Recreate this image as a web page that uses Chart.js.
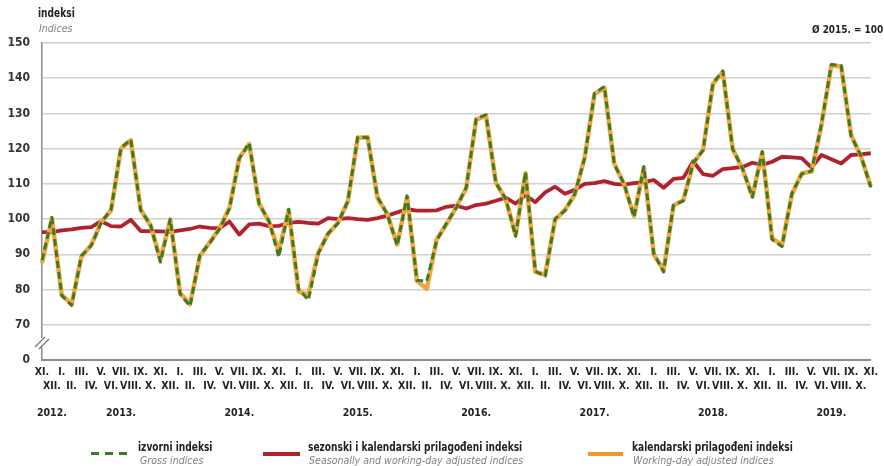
<!DOCTYPE html>
<html lang="hr">
<head>
    <meta charset="UTF-8">
    <title>Indeksi</title>
    <script src="https://cdn.jsdelivr.net/npm/chart.js"></script>
    <style>
        body { margin: 0; background: #fff; }
        #wrap { position: relative; width: 884px; height: 466px; overflow: hidden;
                font-family: 'Liberation Sans Narrow', 'DejaVu Sans Condensed', 'Arial Narrow', sans-serif; color: #222; }
        #wrap canvas { position: absolute; left: 0; top: 0; }
        .txt { position: absolute; white-space: nowrap; transform-origin: 0 50%; }
        .b { font-weight: bold; font-size: 12px; transform: scaleX(0.84); }
        .i { font-style: italic; font-size: 11px; color: #808080; transform: scaleX(0.96); }
        .sw { position: absolute; height: 4px; }
    </style>
</head>
<body>
<div id="wrap">
    <canvas id="chart" width="884" height="466"></canvas>

    <div class="txt b" style="left:38px; top:6px;">indeksi</div>
    <div class="txt i" style="left:39px; top:22px;">Indices</div>
    <div class="txt b" style="left:812px; top:23px; font-size:11px; transform: scaleX(0.9);">Ø 2015. = 100</div>

    <!-- legenda -->
    <div class="sw" style="left:91px; top:452px; width:38px; height:3px;
         background: repeating-linear-gradient(90deg, #3a7a28 0 8px, transparent 8px 14px);"></div>
    <div class="txt b" style="left:138px; top:440px;">izvorni indeksi</div>
    <div class="txt i" style="left:140px; top:454px;">Gross indices</div>

    <div class="sw" style="left:263px; top:452px; width:37px; background:#b0232e;"></div>
    <div class="txt b" style="left:308px; top:440px;">sezonski i kalendarski prilagođeni indeksi</div>
    <div class="txt i" style="left:309px; top:454px;">Seasonally and working-day adjusted indices</div>

    <div class="sw" style="left:588px; top:452px; width:35px; background:#f0972e;"></div>
    <div class="txt b" style="left:632px; top:440px;">kalendarski prilagođeni indeksi</div>
    <div class="txt i" style="left:633px; top:454px;">Working-day adjusted indices</div>
</div>

<script>
    // --- Podaci: XI. 2012. - XI. 2019. ---
    const monthNames = ['I.', 'II.', 'III.', 'IV.', 'V.', 'VI.', 'VII.', 'VIII.', 'IX.', 'X.', 'XI.', 'XII.'];
    const yearNames = ['2012.', '2013.', '2014.', '2015.', '2016.', '2017.', '2018.', '2019.'];

    // izvorni indeksi
    const gross = [
        88.3, 100.5,
        78.3, 75.5, 89.6, 92.5, 99.0, 102.7, 120.3, 122.6, 102.5, 98.4, 87.8, 100.0,
        78.7, 75.3, 89.8, 93.2, 97.2, 103.0, 117.2, 121.6, 104.3, 99.5, 89.2, 102.8,
        80.2, 77.0, 90.2, 96.0, 98.8, 105.2, 123.3, 123.1, 106.3, 101.3, 92.5, 106.6,
        82.6, 82.4, 94.0, 98.8, 103.3, 109.0, 128.5, 129.6, 110.2, 105.8, 95.1, 113.3,
        85.2, 83.8, 100.1, 102.4, 107.2, 117.3, 135.8, 137.6, 115.6, 110.0, 100.6, 114.9,
        90.3, 85.0, 104.0, 105.2, 116.0, 119.5, 138.6, 142.1, 119.8, 114.4, 106.2, 119.2,
        94.2, 92.2, 107.3, 112.8, 113.7, 127.0, 143.9, 143.6, 123.6, 118.0, 109.0
    ];

    // sezonski i kalendarski prilagođeni indeksi
    const seasonal = [
        96.3, 96.3,
        96.8, 97.1, 97.5, 97.7, 99.4, 98.0, 97.9, 99.8, 96.6, 96.6, 96.5, 96.4,
        96.8, 97.2, 97.9, 97.5, 97.4, 99.3, 95.6, 98.5, 98.7, 98.0, 98.1, 98.9,
        99.2, 98.9, 98.7, 100.3, 100.0, 100.3, 100.0, 99.8, 100.3, 101.0, 101.9, 102.8,
        102.4, 102.4, 102.5, 103.5, 103.8, 103.0, 104.0, 104.4, 105.2, 106.1, 104.4, 106.8,
        104.8, 107.6, 109.2, 107.2, 108.3, 110.0, 110.2, 110.8, 110.0, 109.8, 110.2, 110.5,
        111.1, 108.9, 111.4, 111.7, 116.4, 112.8, 112.3, 114.2, 114.5, 114.8, 116.0, 115.4,
        116.3, 117.7, 117.5, 117.3, 114.6, 118.2, 117.0, 115.8, 118.2, 118.4, 118.7
    ];

    // kalendarski prilagođeni indeksi
    const workingDay = [
        87.5, 100.2,
        78.5, 75.8, 89.4, 92.7, 99.2, 102.5, 120.0, 122.4, 102.7, 98.2, 88.5, 99.8,
        79.0, 75.8, 89.5, 93.4, 97.4, 103.2, 117.5, 121.3, 104.5, 99.3, 91.0, 102.5,
        79.5, 78.5, 90.5, 95.8, 99.0, 105.0, 123.0, 123.3, 106.0, 101.5, 92.8, 106.3,
        82.4, 80.2, 94.2, 98.6, 103.5, 108.8, 128.2, 129.4, 110.4, 105.6, 95.5, 113.0,
        85.0, 84.2, 99.8, 102.6, 107.0, 117.5, 135.5, 137.3, 115.8, 109.8, 100.9, 114.6,
        90.0, 85.5, 103.8, 105.4, 115.8, 119.7, 138.3, 141.8, 120.0, 114.2, 106.5, 118.9,
        94.5, 92.6, 107.0, 113.0, 113.5, 126.7, 143.6, 143.3, 123.9, 117.8, 109.3
    ];

    // oznake osi x: mjeseci u dva reda, godina ispod
    const labels = [];
    for (let i = 0; i < gross.length; i++) {
        const m = (10 + i) % 12;               // prvi mjesec je XI.
        const y = Math.floor((10 + i) / 12);    // 0 = 2012.
        let yearTxt = '';
        if (y === 0 && m === 11) yearTxt = yearNames[0];
        if (y > 0 && m === 6) yearTxt = yearNames[y];
        labels.push(i % 2 === 0
            ? [monthNames[m], '', '', yearTxt]
            : ['', monthNames[m], '', yearTxt]);
    }

    const FONT = "'Liberation Sans Narrow', 'DejaVu Sans Condensed', 'Arial Narrow', sans-serif";

    // prekid osi y (//)
    const axisBreak = {
        id: 'axisBreak',
        afterDraw(chart) {
            const ctx = chart.ctx;
            const x = chart.chartArea.left;
            ctx.save();
            ctx.fillStyle = '#fff';
            ctx.fillRect(x - 3, 338, 6, 9);
            ctx.strokeStyle = '#777';
            ctx.lineWidth = 1.3;
            ctx.beginPath();
            ctx.moveTo(x - 7, 347); ctx.lineTo(x + 3, 337);
            ctx.moveTo(x - 3, 349); ctx.lineTo(x + 7, 339);
            ctx.stroke();
            ctx.restore();
        }
    };

    const ctx = document.getElementById('chart').getContext('2d');
    new Chart(ctx, {
        type: 'line',
        data: {
            labels: labels,
            datasets: [{
                label: 'izvorni indeksi',
                data: gross,
                borderColor: '#3a7a28',
                borderWidth: 3,
                borderDash: [7, 4],
                borderJoinStyle: 'round',
                pointRadius: 0,
                tension: 0,
                order: 0
            }, {
                label: 'sezonski i kalendarski prilagođeni indeksi',
                data: seasonal,
                borderColor: '#b0232e',
                borderWidth: 3.8,
                borderJoinStyle: 'round',
                pointRadius: 0,
                tension: 0,
                order: 2
            }, {
                label: 'kalendarski prilagođeni indeksi',
                data: workingDay,
                borderColor: '#f3a63c',
                borderWidth: 4.5,
                borderJoinStyle: 'round',
                pointRadius: 0,
                tension: 0,
                order: 1
            }]
        },
        options: {
            responsive: false,
            animation: false,
            layout: { padding: { top: 43, right: 6, bottom: 0, left: 0 } },
            plugins: {
                legend: { display: false },
                tooltip: { enabled: false }
            },
            scales: {
                x: {
                    offset: false,
                    grid: { display: false, drawTicks: false },
                    border: { display: true, color: '#8c8c8c', width: 2 },
                    ticks: {
                        autoSkip: false,
                        maxRotation: 0,
                        minRotation: 0,
                        padding: 6,
                        color: '#222',
                        font: { family: FONT, size: 10.5, weight: 'bold', lineHeight: 1.28 }
                    },
                    afterFit: (s) => { s.height = 106; }
                },
                y: {
                    min: 60,
                    max: 150,
                    grid: {
                        drawTicks: false,
                        color: (c) => c.tick && c.tick.value === 60 ? 'rgba(0,0,0,0)' : '#d0d0d0',
                        lineWidth: 1.5
                    },
                    border: { display: true, color: '#8c8c8c', width: 1.5 },
                    ticks: {
                        stepSize: 10,
                        padding: 12,
                        color: '#333',
                        font: { family: FONT, size: 12, weight: 'bold' },
                        callback: (v) => v === 60 ? '0' : v
                    },
                    afterFit: (s) => { s.width = 42; }
                }
            }
        },
        plugins: [axisBreak]
    });
</script>
</body>
</html>
